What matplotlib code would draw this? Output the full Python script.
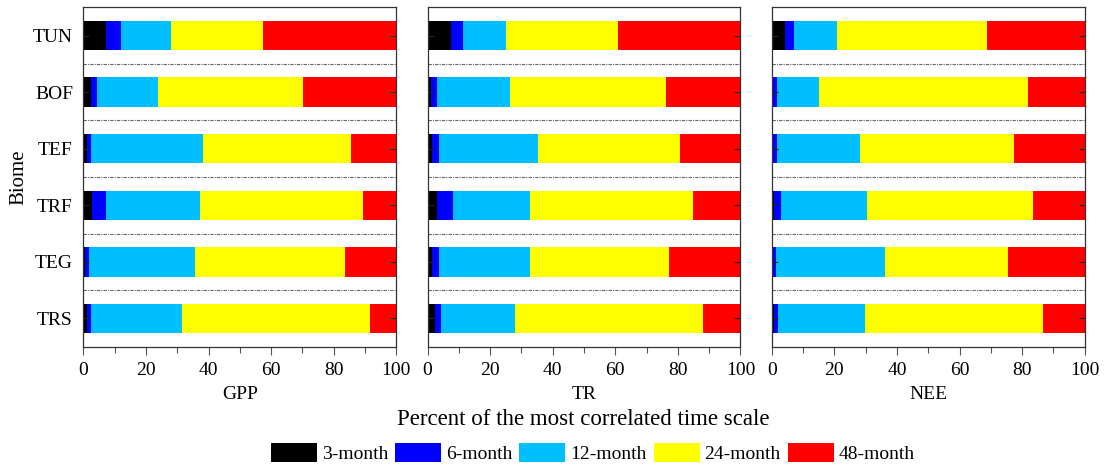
import numpy as np
import matplotlib
matplotlib.use('Agg')
import matplotlib.pyplot as plt
from matplotlib.patches import Patch
from matplotlib.ticker import MultipleLocator

plt.rcParams['font.family'] = ['Liberation Serif', 'DejaVu Serif']

# Biomes from top to bottom
biomes = ['TUN', 'BOF', 'TEF', 'TRF', 'TEG', 'TRS']
scales = ['3-month', '6-month', '12-month', '24-month', '48-month']
colors = ['#000000', '#0000FF', '#00BFFF', '#FFFF00', '#FF0000']

# Percent of grid cells per most correlated time scale (rows = biomes, cols = scales)
gpp = [[7.2, 4.9, 15.9, 29.3, 42.7],
       [2.4, 1.9, 19.5, 46.5, 29.7],
       [1.2, 1.4, 35.6, 47.2, 14.6],
       [2.9, 4.4, 29.9, 52.1, 10.7],
       [0.5, 1.3, 33.9, 47.9, 16.4],
       [1.3, 1.2, 29.1, 60.0, 8.4]]
tr = [[7.6, 3.8, 13.8, 35.7, 39.1],
      [1.1, 1.9, 23.4, 49.9, 23.7],
      [1.5, 2.1, 31.8, 45.3, 19.3],
      [3.0, 5.0, 24.8, 52.1, 15.1],
      [1.3, 2.5, 29.0, 44.3, 22.9],
      [2.5, 1.7, 23.6, 60.1, 12.1]]
nee = [[4.2, 3.0, 13.6, 47.9, 31.3],
       [0.4, 1.3, 13.5, 66.8, 18.0],
       [0.4, 1.3, 26.4, 49.4, 22.5],
       [0.6, 2.4, 27.5, 53.0, 16.5],
       [0.3, 1.1, 34.9, 39.1, 24.6],
       [0.7, 1.2, 28.0, 56.9, 13.2]]
variables = ['GPP', 'TR', 'NEE']

fig, axes = plt.subplots(1, 3, figsize=(11.04, 4.65), dpi=100)
fig.subplots_adjust(left=0.0755, right=0.9825, bottom=0.2544, top=0.9843, wspace=0.1)

y = np.arange(len(biomes))
for ax, data, name in zip(axes, [gpp, tr, nee], variables):
    data = np.array(data)
    left = np.zeros(len(biomes))
    for j in range(len(scales)):
        ax.barh(y, data[:, j], left=left, height=0.52, color=colors[j], linewidth=0)
        left += data[:, j]
    # dotted separators between biomes
    for k in range(len(biomes) - 1):
        ax.axhline(k + 0.5, color='#666666', lw=0.8, ls=(0, (3, 1, 1, 1)))
    ax.set_xlim(0, 100)
    ax.set_ylim(len(biomes) - 0.5, -0.5)
    ax.set_yticks(y)
    ax.xaxis.set_major_locator(MultipleLocator(20))
    ax.xaxis.set_minor_locator(MultipleLocator(10))
    ax.tick_params(axis='x', which='major', direction='out', length=6, width=0.8,
                   color='#555555', labelsize=14, pad=5)
    ax.tick_params(axis='x', which='minor', direction='out', length=4, width=0.8, color='#555555')
    ax.tick_params(axis='y', direction='in', length=4.5, width=0.8, color='#222222',
                   left=True, right=True, labelsize=14, pad=7.5)
    for s in ax.spines.values():
        s.set_color('#333333')
        s.set_linewidth(0.9)
    ax.set_xlabel(name, fontsize=14, labelpad=5)

axes[0].set_yticklabels(biomes)
axes[0].set_ylabel('Biome', fontsize=15, labelpad=3)
for ax in axes[1:]:
    ax.set_yticklabels([])

fig.text(0.5287, 0.097, 'Percent of the most correlated time scale', fontsize=16.5,
         ha='center', va='center')

handles = [Patch(facecolor=c, edgecolor='none') for c in colors]
fig.legend(handles, scales, loc='center', bbox_to_anchor=(0.537, 0.026), ncol=5,
           frameon=False, fontsize=14, handlelength=2.37, handleheight=1.13,
           handletextpad=0.25, columnspacing=0.35, borderpad=0)

fig.savefig('out.png', dpi=100)
